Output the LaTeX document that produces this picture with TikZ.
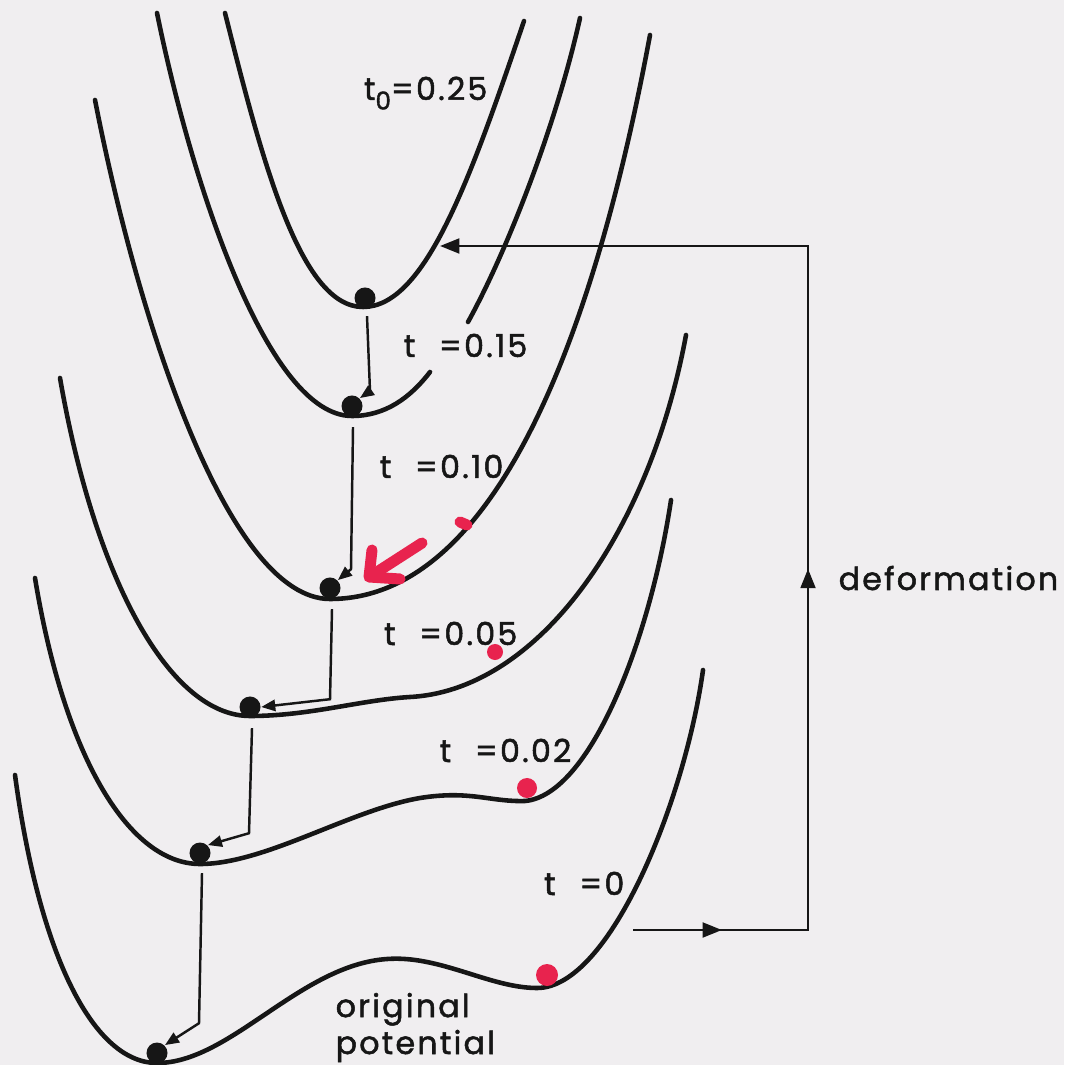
\documentclass[tikz,border=0pt]{standalone}
\usepackage{fontspec}
\usetikzlibrary{arrows.meta,decorations.markings}
\newfontfamily\lbl[LetterSpace=7,FakeBold=1.6]{Poppins}
\definecolor{ink}{HTML}{161616}
\definecolor{paper}{HTML}{F0EEF0}
\definecolor{marker}{HTML}{E8234E}
\tikzset{curve/.style={draw=ink,line width=1.3pt,line cap=round},ball/.style={circle,fill=ink,inner sep=0pt,minimum size=2.1mm},flow/.style={-{Triangle[length=4pt,width=3.2pt]},line width=.7pt,draw=ink},deform/.style={draw=ink,line width=.75pt,-{Triangle[length=5.5pt,width=4.2pt]},postaction={decorate},decoration={markings,mark=at position .0725 with {\arrow{Triangle[length=5.5pt,width=4.2pt]}},mark=at position .437 with {\arrow{Triangle[length=5.5pt,width=4.2pt]}}}},tag/.style={font={\lbl\fontsize{9}{10.5}\selectfont},text=ink,inner sep=0pt},blot/.style={fill=marker},scrawl/.style={draw=marker,line width=1.1mm,line cap=round,line join=round}}

\begin{document}
\begin{tikzpicture}[x=0.01cm,y=-0.01cm]
\useasboundingbox (0,0) rectangle (1064,1065);
\fill[paper] (0,0) rectangle (1064,1065);
\draw[curve] (225,13) .. controls (262,160) and (300,307) .. (363,307) .. controls (425,307) and (470,180) .. (524,21);
\draw[curve] (157,13) .. controls (192,185) and (268,416) .. (352,416) .. controls (385,416) and (410,398) .. (430,372);
\draw[curve] (468,322) .. controls (505,255) and (555,130) .. (580,18);
\draw[curve] (95,100) .. controls (140,330) and (230,599) .. (330,599) .. controls (520,599) and (610,250) .. (650,35);
\draw[curve] (60,378) .. controls (95,580) and (170,716) .. (250,716) .. controls (310,716) and (360,700) .. (410,697) .. controls (540,690) and (650,530) .. (686,335);
\draw[curve] (35,578) .. controls (65,760) and (130,864) .. (200,864) .. controls (265,864) and (350,810) .. (420,798) .. controls (470,790) and (490,802) .. (525,801) .. controls (590,795) and (650,640) .. (671,500);
\draw[curve] (15,775) .. controls (40,960) and (95,1063) .. (157,1063) .. controls (230,1063) and (300,965) .. (387,959) .. controls (440,955) and (490,988) .. (537,988) .. controls (610,988) and (685,800) .. (703,670);
\node[ball] (d1) at (365,298) {};
\node[ball] (d2) at (352,406) {};
\node[ball] (d3) at (330,588) {};
\node[ball] (d4) at (250,707) {};
\node[ball] (d5) at (200,853) {};
\node[ball] (d6) at (157,1053) {};
\draw[flow] (d1.south) ++(2,7) -- ++(3,75) -- (d2.north east);
\draw[flow] (d2.south) ++(1,10) -- ++(-2,142) -- (d3.north east);
\draw[flow] (d3.south) ++(2,10) -- ++(-2,90) -- (d4.east);
\draw[flow] (d4.south) ++(2,10) -- ++(-3,105) -- (d5.north east);
\draw[flow] (d5.south) ++(2,9) -- ++(-3,150) -- (d6.north east);
\coordinate (defA) at (633,930);
\coordinate (defB) at (808,930);
\coordinate (defC) at (808,246);
\coordinate (hit) at (440,246);
\draw[deform] (defA) -- (defB) -- (defC) -- (hit);
\node[tag,anchor=base east] (t25) at (488,100) {t\raisebox{-.55ex}{\fontsize{7}{7}\selectfont 0}=0.25};
\node[tag,anchor=base east] (t15) at (528,357) {t\hspace{.75em}=0.15};
\node[tag,anchor=base east] (t10) at (504,478) {t\hspace{.75em}=0.10};
\node[tag,anchor=base east] (t05) at (518,645) {t\hspace{.75em}=0.05};
\node[tag,anchor=base east] (t02) at (572,762) {t\hspace{.75em}=0.02};
\node[tag,anchor=base east] (t00) at (625,895) {t\hspace{.75em}=0};
\node[tag,anchor=base west,align=left] (orig) at (335,1054) {original\\potential};
\node[tag,anchor=base west] (deflbl) at (838,590) {deformation};
\draw[scrawl] (422,543) -- (377,572);
\draw[scrawl] (372,550) -- (369,577) -- (400,579);
\draw[scrawl] (460,522) -- (467,525);
\fill[blot] (495,652) circle[radius=.8mm];
\fill[blot] (527,788) circle[radius=1mm];
\fill[blot] (547,975) circle[radius=1.1mm];
\end{tikzpicture}
\end{document}
